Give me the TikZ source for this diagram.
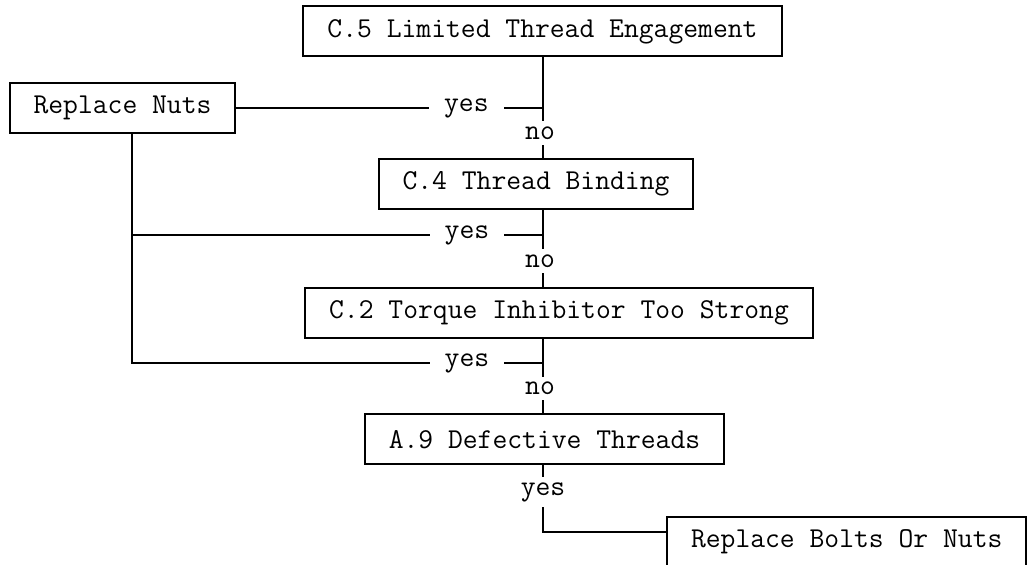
\documentclass[tikz,border=0pt]{standalone}
\usepackage{fontspec}

\begin{document}
\begin{tikzpicture}[
  x=0.5pt,y=-0.5pt,
  block/.style={draw,line width=1pt,inner xsep=12pt,minimum height=25pt,font=\ttfamily\fontsize{14.4}{16}\selectfont},
  link/.style={line width=1pt},
  tag/.style={fill=white,inner xsep=7.5pt,inner ysep=2.6pt,font=\ttfamily\fontsize{14.4}{16}\selectfont}
]
  \useasboundingbox (0,0) rectangle (1029,565);
  \clip (0,0) rectangle (1029,565);

  \node[block] (limited) at (542.5,31.5) {C.5 Limited Thread Engagement};
  \node[block] (nuts) at (122.5,108) {Replace Nuts};
  \node[block] (binding) at (536,184) {C.4 Thread Binding};
  \node[block] (torque) at (559,313) {C.2 Torque Inhibitor Too Strong};
  \node[block] (defect) at (544.5,439.5) {A.9 Defective Threads};
  \node[block,anchor=north west] (bolts) at (666,516) {Replace Bolts Or Nuts};

  % junctions on the main line
  \coordinate (j1) at (543,108);
  \coordinate (j2) at (543,235);
  \coordinate (j3) at (543,363);
  \coordinate (j4) at (543,532);
  \coordinate (k2) at (132,235);
  \coordinate (k3) at (132,363);

  \draw[link] (j1 |- limited.south) -- (j1) -- node[tag,xshift=-1.5pt]{no} (j1 |- binding.north);
  \draw[link] (j2 |- binding.south) -- (j2) -- node[tag,xshift=-1.5pt]{no} (j2 |- torque.north);
  \draw[link] (j3 |- torque.south) -- (j3) -- node[tag,xshift=-1.5pt]{no} (j3 |- defect.north);
  \draw[link] (j4 |- defect.south) -- node[tag,pos=.4]{yes} (j4) -- (bolts.west |- j4);

  \draw[link] (j1) -- node[tag,pos=.25]{yes} (nuts.east |- j1);
  \draw[link] (j2) -- node[tag,pos=.185]{yes} (k2);
  \draw[link] (j3) -- node[tag,pos=.185]{yes} (k3) -- (k3 |- nuts.south);
\end{tikzpicture}
\end{document}
